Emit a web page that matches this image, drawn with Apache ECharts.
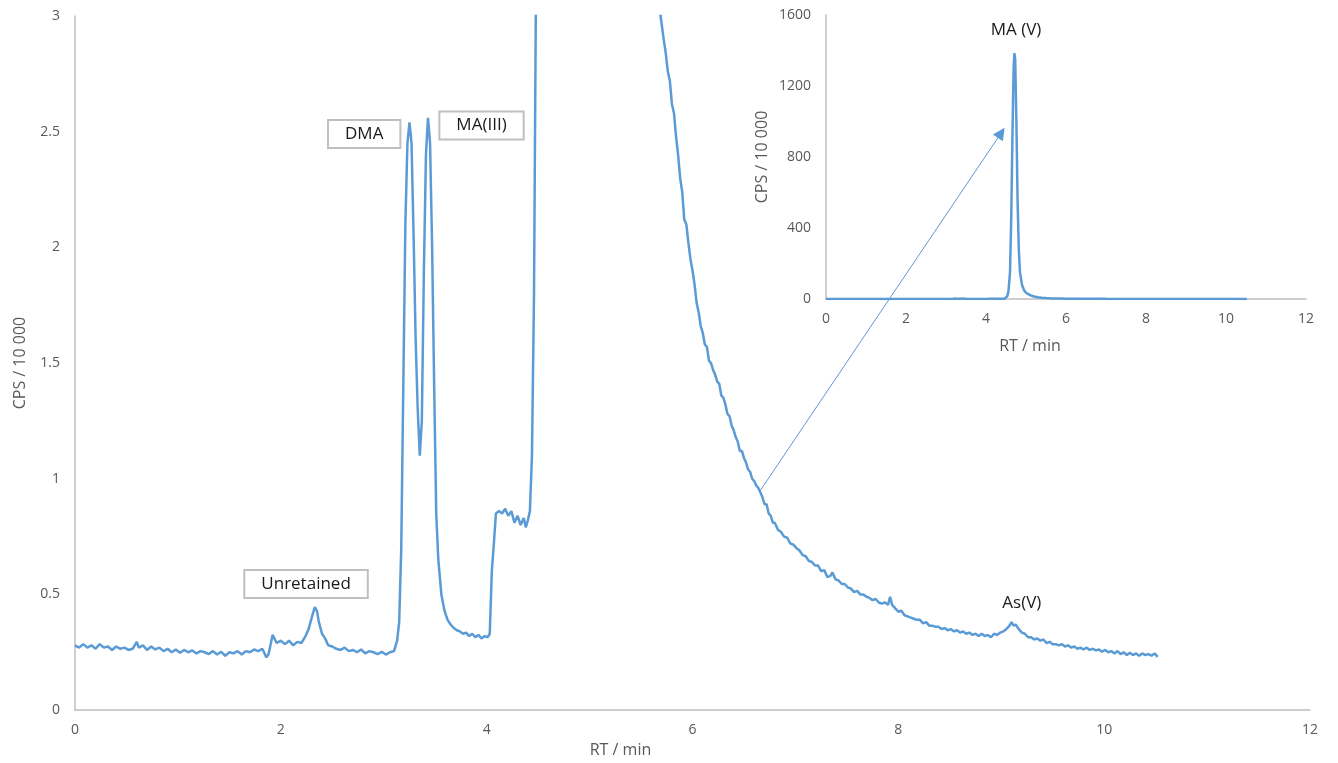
<!DOCTYPE html>
<html><head><meta charset="utf-8">
<script src="https://cdn.jsdelivr.net/npm/echarts@6/dist/echarts.min.js"></script>
<style>html,body{margin:0;padding:0;background:#fff}#c{width:1338px;height:763px}</style>
</head><body><div id="c"></div>
<script>
// Chromatogram trace: [RT (min), CPS / 10 000]
const baselineSeg = [
[0.00,0.28],[0.04,0.27],[0.08,0.285],[0.12,0.27],[0.16,0.28],[0.20,0.265],[0.24,0.285],[0.28,0.27],
[0.32,0.275],[0.36,0.26],[0.40,0.275],[0.44,0.265],[0.48,0.27],[0.52,0.26],[0.56,0.265],[0.60,0.295],
[0.62,0.27],[0.66,0.28],[0.70,0.26],[0.74,0.275],[0.78,0.262],[0.82,0.27],[0.86,0.255],[0.90,0.265],
[0.94,0.25],[0.98,0.262],[1.02,0.248],[1.06,0.26],[1.10,0.25],[1.14,0.258],[1.18,0.245],[1.22,0.255],
[1.26,0.25],[1.30,0.242],[1.34,0.255],[1.38,0.24],[1.42,0.252],[1.46,0.235],[1.50,0.25],[1.54,0.245],
[1.58,0.255],[1.62,0.24],[1.66,0.255],[1.70,0.25],[1.74,0.262],[1.78,0.255],[1.82,0.265],[1.86,0.228],
[1.88,0.24],[1.92,0.325],[1.96,0.29],[2.00,0.30],[2.04,0.285],[2.08,0.30],[2.12,0.28],[2.16,0.295],
[2.20,0.29],[2.24,0.32],[2.27,0.35],[2.30,0.40],[2.33,0.445],[2.35,0.43],[2.37,0.38],[2.40,0.33],
[2.43,0.31],[2.46,0.28],[2.50,0.275],[2.54,0.265],[2.58,0.26],[2.62,0.27],[2.66,0.255],[2.70,0.26],
[2.74,0.25],[2.78,0.262],[2.82,0.245],[2.86,0.255],[2.90,0.25],[2.94,0.242],[2.98,0.252],[3.02,0.24],
[3.06,0.25],[3.10,0.255]
];
const earlyPeaksSeg = [
[3.13,0.30],[3.15,0.38],[3.17,0.70],[3.19,1.40],[3.21,2.10],[3.23,2.45],[3.25,2.54],[3.27,2.45],
[3.29,2.05],[3.31,1.60],[3.33,1.30],[3.35,1.10],[3.37,1.25],[3.39,1.90],[3.41,2.40],[3.43,2.56],
[3.45,2.45],[3.47,2.00],[3.49,1.40],[3.51,0.85],[3.53,0.65],[3.56,0.50],[3.59,0.43],[3.62,0.39],
[3.65,0.37],[3.68,0.355],[3.71,0.345],[3.74,0.34],[3.77,0.33],[3.80,0.335],[3.83,0.32],[3.86,0.33],
[3.89,0.315],[3.92,0.325],[3.95,0.31],[3.98,0.32],[4.01,0.315],[4.03,0.33],[4.05,0.60],[4.07,0.72],
[4.09,0.85],[4.12,0.86],[4.15,0.85],[4.18,0.87],[4.21,0.84],[4.24,0.86],[4.27,0.81],[4.30,0.84],
[4.33,0.80],[4.36,0.83],[4.38,0.79],[4.40,0.82],[4.42,0.86],[4.44,1.10],[4.46,1.80],[4.48,3.2]
];
const maVSeg = [
[4.50,6],[4.53,15],[4.56,40],[4.60,150],[4.63,450],[4.66,900],[4.69,1300],[4.71,1385],[4.73,1350],
[4.76,1000],[4.79,550],[4.82,280],[4.85,150],[4.90,80],[4.95,50],[5.00,35],[5.10,22],[5.20,14],
[5.30,9.5],[5.40,6.5],[5.50,5],[5.60,3.7],[5.66,3.2]
];
const tailSeg = [
[5.69,3.0],[5.72,2.90],[5.74,2.84],[5.76,2.76],[5.78,2.72],[5.80,2.62],[5.82,2.58],[5.84,2.48],
[5.86,2.40],[5.88,2.30],[5.90,2.24],[5.92,2.12],[5.94,2.10],[5.96,2.02],[5.98,1.95],[6.00,1.90],
[6.02,1.84],[6.04,1.76],[6.06,1.72],[6.08,1.66],[6.10,1.63],[6.12,1.58],[6.14,1.57],[6.16,1.51],
[6.18,1.50],[6.20,1.47],[6.22,1.45],[6.24,1.42],[6.26,1.41],[6.28,1.36],[6.30,1.35],[6.32,1.32],
[6.34,1.28],[6.36,1.27],[6.38,1.23],[6.40,1.21],[6.42,1.18],[6.44,1.16],[6.46,1.12],[6.48,1.12],
[6.50,1.09],[6.52,1.07],[6.54,1.04],[6.56,1.03],[6.58,1.00],[6.60,0.99],[6.62,0.97],[6.64,0.96],
[6.66,0.94],[6.68,0.92],[6.70,0.89],[6.72,0.89],[6.74,0.85],[6.76,0.84],[6.78,0.81],[6.80,0.81],
[6.83,0.78],[6.86,0.77],[6.89,0.75],[6.92,0.745],[6.95,0.72],[6.98,0.715],[7.01,0.70],[7.04,0.69],
[7.07,0.67],[7.10,0.665],[7.13,0.645],[7.16,0.64],[7.19,0.625],[7.22,0.625],[7.25,0.60],[7.28,0.605],
[7.31,0.575],[7.34,0.58],[7.36,0.595],[7.39,0.565],[7.42,0.56],[7.45,0.545],[7.48,0.545],[7.51,0.53],
[7.54,0.525],[7.57,0.51],[7.60,0.515],[7.63,0.50],[7.66,0.50],[7.69,0.49],[7.72,0.485],[7.75,0.475],
[7.78,0.48],[7.81,0.465],[7.84,0.46],[7.87,0.465],[7.90,0.455],[7.92,0.49],[7.94,0.455],[7.97,0.44],
[8.00,0.425],[8.03,0.43],[8.06,0.41],[8.09,0.405],[8.12,0.40],[8.15,0.395],[8.18,0.39],[8.21,0.39],
[8.24,0.375],[8.27,0.38],[8.30,0.365],[8.33,0.365],[8.36,0.36],[8.39,0.36],[8.42,0.35],[8.45,0.355],
[8.48,0.345],[8.51,0.35],[8.54,0.34],[8.57,0.345],[8.60,0.335],[8.63,0.34],[8.66,0.33],[8.69,0.335],
[8.72,0.325],[8.75,0.33],[8.78,0.32],[8.81,0.33],[8.84,0.32],[8.87,0.325],[8.90,0.315],[8.93,0.33],
[8.96,0.325],[8.99,0.335],[9.02,0.34],[9.05,0.35],[9.08,0.365],[9.10,0.38],[9.12,0.365],[9.14,0.37],
[9.17,0.35],[9.20,0.335],[9.23,0.33],[9.26,0.315],[9.29,0.315],[9.32,0.305],[9.35,0.31],[9.38,0.30],
[9.41,0.305],[9.44,0.29],[9.47,0.295],[9.50,0.285],[9.53,0.285],[9.56,0.28],[9.59,0.285],[9.62,0.275],
[9.65,0.28],[9.68,0.27],[9.71,0.275],[9.74,0.265],[9.77,0.27],[9.80,0.262],[9.83,0.27],[9.86,0.26],
[9.89,0.265],[9.92,0.258],[9.95,0.262],[9.98,0.252],[10.01,0.26],[10.04,0.25],[10.07,0.255],
[10.10,0.245],[10.13,0.255],[10.16,0.242],[10.19,0.25],[10.22,0.238],[10.25,0.248],[10.28,0.238],
[10.31,0.245],[10.34,0.235],[10.37,0.245],[10.40,0.238],[10.43,0.242],[10.46,0.235],[10.49,0.245],[10.52,0.23]
];
const trace = baselineSeg.concat(earlyPeaksSeg, maVSeg, tailSeg);

const mainXTicks = [0, 2, 4, 6, 8, 10, 12];
const mainYTicks = [0, 0.5, 1, 1.5, 2, 2.5, 3];
const insetYTicks = [0, 400, 800, 1200, 1600];

// annotations: [label, RT, value]
const mainLabels = [['Unretained', 2.245, 0.545], ['DMA', 2.81, 2.49], ['MA(III)', 3.95, 2.527]];
const plainLabels = [['As(V)', 9.2, 0.462]];
const insetLabels = [['MA (V)', 4.75, 1515]];
const arrowFrom = [6.66, 0.95], arrowTo = [9.0, 2.495];

const BLUE = '#5B9BD5', AX = '#BFBFBF', TXT = '#595959', FONT = '"Open Sans", "Noto Sans", sans-serif';

function axisCommon(min, max, interval, labelMargin) {
  return {
    type: 'value', min, max, interval,
    axisLine: { show: true, lineStyle: { color: AX, width: 1.5 } },
    axisTick: { show: false }, splitLine: { show: false },
    axisLabel: { color: TXT, fontSize: 14, fontFamily: FONT, margin: labelMargin,
                 formatter: v => String(v) }
  };
}

const chart = echarts.init(document.getElementById('c'), null, { renderer: 'canvas' });
chart.setOption({
  animation: false,
  backgroundColor: '#fff',
  grid: [
    { left: 75, right: 28, top: 16, bottom: 46, containLabel: false },
    { left: 826, right: 32, top: 15, bottom: 464, containLabel: false }
  ],
  xAxis: [
    Object.assign(axisCommon(mainXTicks[0], mainXTicks[mainXTicks.length-1], 2, 13), {
      gridIndex: 0, name: 'RT / min', nameLocation: 'middle', nameGap: 20,
      nameTextStyle: { color: TXT, fontSize: 16, fontFamily: FONT, padding: [0, 144, 0, 0] }
    }),
    Object.assign(axisCommon(0, 12, 2, 13), {
      gridIndex: 1, name: 'RT / min', nameLocation: 'middle', nameGap: 39,
      nameTextStyle: { color: TXT, fontSize: 16, fontFamily: FONT, padding: [0, 72, 0, 0] }
    })
  ],
  yAxis: [
    Object.assign(axisCommon(mainYTicks[0], mainYTicks[mainYTicks.length-1], 0.5, 15), {
      gridIndex: 0, name: 'CPS / 10 000', nameLocation: 'middle', nameGap: 47,
      nameTextStyle: { color: TXT, fontSize: 16, fontFamily: FONT }
    }),
    Object.assign(axisCommon(insetYTicks[0], insetYTicks[insetYTicks.length-1], 400, 15), {
      gridIndex: 1, name: 'CPS / 10 000', nameLocation: 'middle', nameGap: 56,
      nameTextStyle: { color: TXT, fontSize: 16, fontFamily: FONT }
    })
  ],
  series: [
    {
      type: 'line', xAxisIndex: 0, yAxisIndex: 0, data: trace, showSymbol: false,
      clip: true, silent: true,
      lineStyle: { color: BLUE, width: 2.5 },
      markPoint: {
        silent: true, symbol: 'circle', symbolSize: 0,
        data: mainLabels.map(l => ({
          coord: [l[1], l[2]],
          label: { show: true, position: 'inside', formatter: l[0], color: '#1a1a1a', fontSize: 17,
                   fontFamily: FONT, backgroundColor: '#fff', borderColor: AX, borderWidth: 2,
                   padding: [5, 16, 4, 16] }
        })).concat(plainLabels.map(l => ({
          coord: [l[1], l[2]],
          label: { show: true, position: 'inside', formatter: l[0], color: '#1a1a1a', fontSize: 17, fontFamily: FONT }
        })))
      },
      markLine: {
        silent: true, symbol: ['none', 'triangle'], symbolSize: 12,
        label: { show: false },
        lineStyle: { color: BLUE, width: 1, type: 'solid', opacity: 1 },
        itemStyle: { color: BLUE },
        data: [[{ coord: arrowFrom }, { coord: arrowTo }]]
      }
    },
    {
      type: 'line', xAxisIndex: 1, yAxisIndex: 1, data: trace, showSymbol: false,
      clip: true, silent: true,
      lineStyle: { color: BLUE, width: 2.5 },
      markPoint: {
        silent: true, symbol: 'circle', symbolSize: 0,
        data: insetLabels.map(l => ({
          coord: [l[1], l[2]],
          label: { show: true, position: 'inside', formatter: l[0], color: '#1a1a1a', fontSize: 17, fontFamily: FONT }
        }))
      }
    }
  ]
});
</script></body></html>
